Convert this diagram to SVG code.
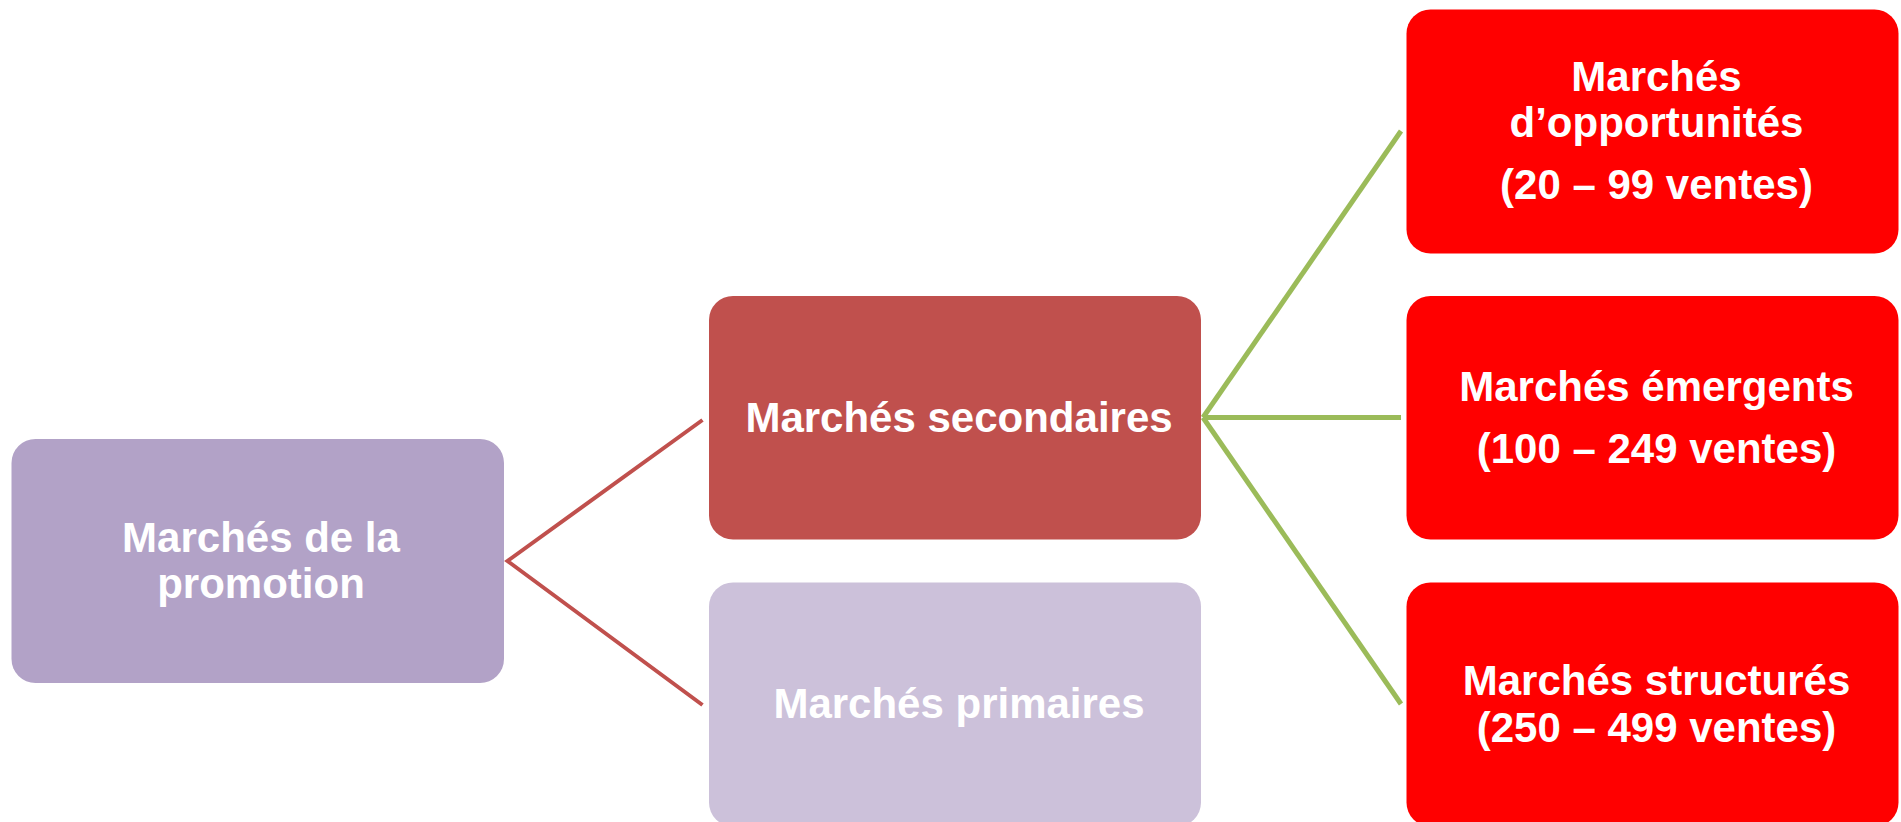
<svg xmlns="http://www.w3.org/2000/svg" width="1901" height="822" viewBox="0 0 1901 822">
<style>
  .lbl { font-family: "Liberation Sans", Arial, sans-serif; font-weight: bold; font-size: 42px; fill: #FFFFFF; text-anchor: middle; }
  .red-link { stroke: #C0504D; stroke-width: 4; fill: none; }
  .green-link { stroke: #9BBB59; stroke-width: 5; fill: none; }
</style>
<rect width="1901" height="822" fill="#FFFFFF"/>
<g id="connectors">
  <polyline class="red-link" points="702.5,420 507.5,561 702.5,705"/>
  <line class="green-link" x1="1203" y1="417.5" x2="1401" y2="131"/>
  <line class="green-link" x1="1203" y1="417.5" x2="1401" y2="417.5"/>
  <line class="green-link" x1="1203" y1="417.5" x2="1401" y2="704"/>
</g>
<g id="node-promotion">
  <rect x="11.5" y="439" width="492.5" height="244" rx="24" ry="24" fill="#B2A2C7"/>
  <text class="lbl" x="261" y="552.3">Marchés de la</text>
  <text class="lbl" x="261" y="597.7">promotion</text>
</g>
<g id="node-secondaires">
  <rect x="709" y="296" width="492" height="243.5" rx="24" ry="24" fill="#C0504D"/>
  <text class="lbl" x="959" y="432.3">Marchés secondaires</text>
</g>
<g id="node-primaires">
  <rect x="709" y="582.5" width="492" height="244" rx="24" ry="24" fill="#CCC1DA"/>
  <text class="lbl" x="959" y="718.3">Marchés primaires</text>
</g>
<g id="node-opportunites">
  <rect x="1406.5" y="9.5" width="492" height="244" rx="24" ry="24" fill="#FF0000"/>
  <text class="lbl" x="1656.5" y="91">Marchés</text>
  <text class="lbl" x="1656.5" y="136.7">d’opportunités</text>
  <text class="lbl" x="1656.5" y="199.3">(20 – 99 ventes)</text>
</g>
<g id="node-emergents">
  <rect x="1406.5" y="296" width="492" height="243.5" rx="24" ry="24" fill="#FF0000"/>
  <text class="lbl" x="1656.5" y="400.7">Marchés émergents</text>
  <text class="lbl" x="1656.5" y="462.7">(100 – 249 ventes)</text>
</g>
<g id="node-structures">
  <rect x="1406.5" y="582.5" width="492" height="244" rx="24" ry="24" fill="#FF0000"/>
  <text class="lbl" x="1656.5" y="695">Marchés structurés</text>
  <text class="lbl" x="1656.5" y="741.7">(250 – 499 ventes)</text>
</g>
</svg>
